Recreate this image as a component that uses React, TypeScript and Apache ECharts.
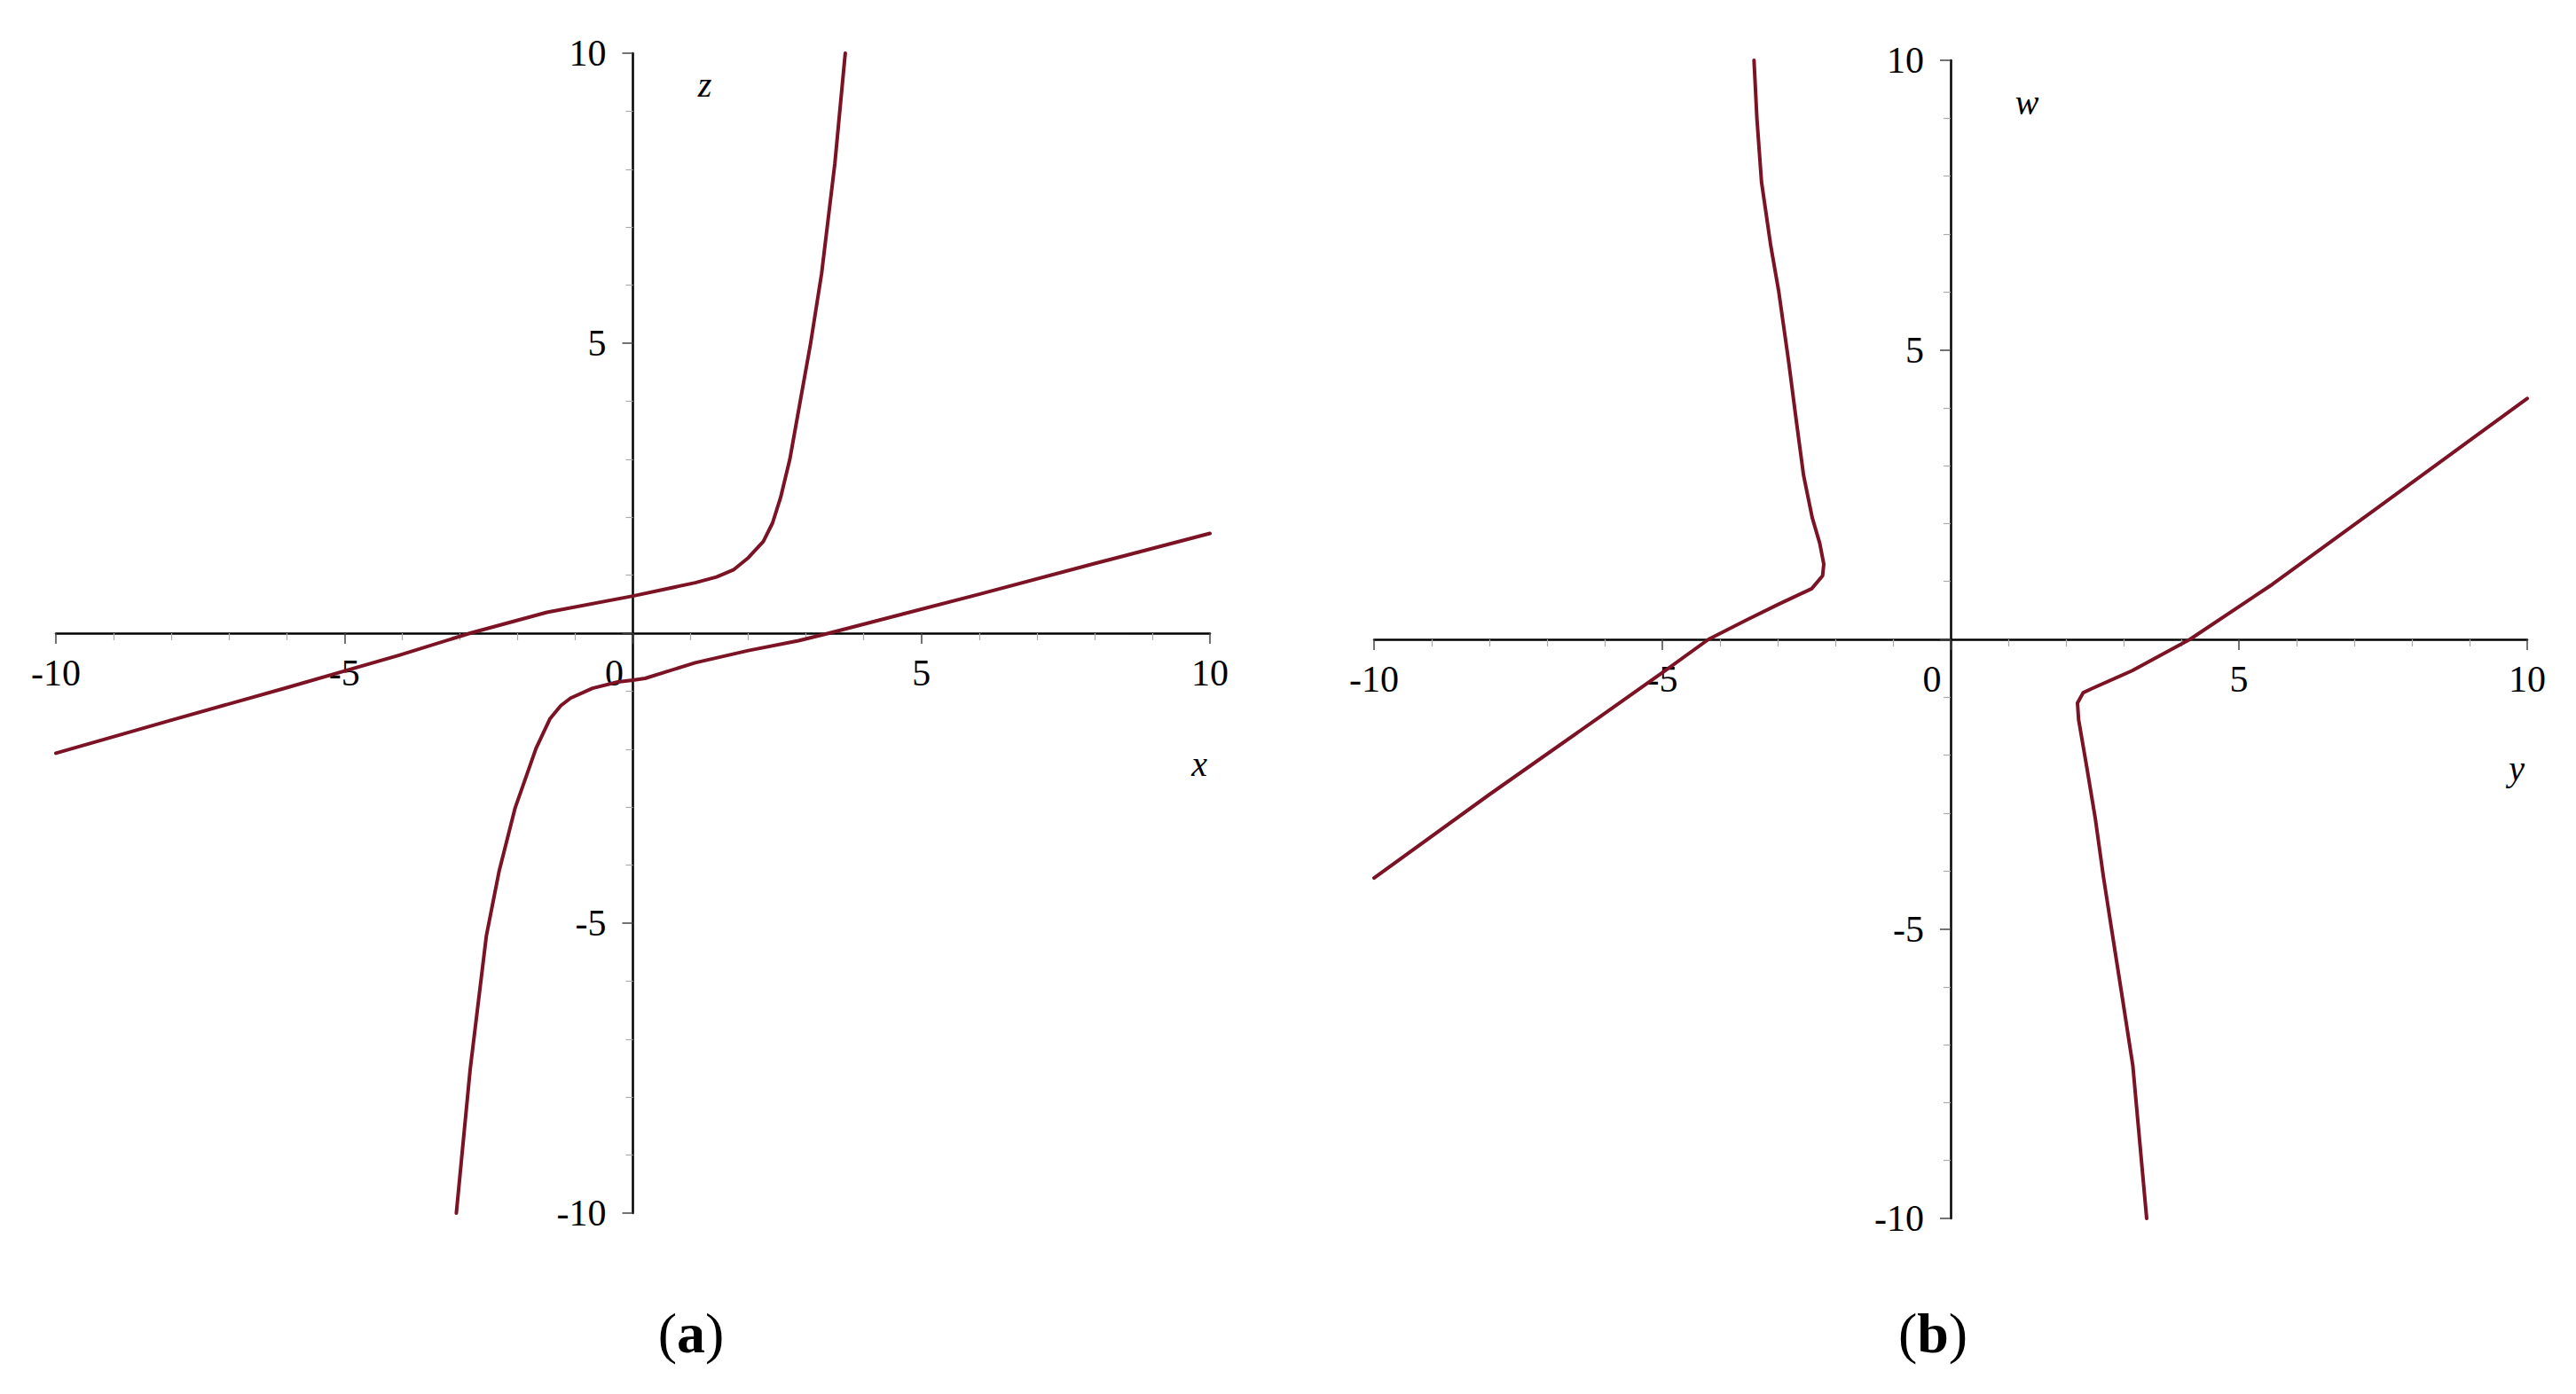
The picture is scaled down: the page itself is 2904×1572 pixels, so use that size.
import React, { useEffect, useRef } from "react";
import * as echarts from "echarts";

// ---- axis ticks ----
const AXIS_MIN = -10;
const AXIS_MAX = 10;
const MAJOR_STEP = 5;
const MINOR_SPLIT = 5;

// ---- panel captions & axis names ----
const panelCaptions = ["a", "b"];
const panelAxisNamesH = ["x", "y"];
const panelAxisNamesV = ["z", "w"];

// ---- panel (a): z versus x ----
const curveAUpper: [number, number][] = [
  [-10, -2.07], [-8, -1.5], [-6, -0.94], [-4.05, -0.38], [-2.82, 0], [-1.49, 0.36],
  [0, 0.64], [1.08, 0.87], [1.45, 0.97], [1.74, 1.09], [2.0, 1.3], [2.26, 1.58],
  [2.42, 1.9], [2.56, 2.34], [2.72, 3.0], [2.9, 4.0], [3.08, 5.0], [3.27, 6.2],
  [3.5, 8.1], [3.68, 10],
];
const curveALower: [number, number][] = [
  [-3.06, -10], [-2.82, -7.52], [-2.54, -5.22], [-2.32, -4.11], [-2.04, -3.01],
  [-1.68, -1.99], [-1.44, -1.48], [-1.25, -1.25], [-1.08, -1.12], [-0.7, -0.95],
  [-0.26, -0.84], [0, -0.81], [0.21, -0.78], [1.08, -0.51], [2.0, -0.3],
  [2.87, -0.13], [3.4, 0], [6, 0.67], [8, 1.2], [10, 1.72],
];

// ---- panel (b): w versus y ----
const curveBLeft: [number, number][] = [
  [-3.41, 10], [-3.36, 9], [-3.28, 7.9], [-3.12, 6.8], [-2.98, 6.0], [-2.81, 4.8],
  [-2.68, 3.8], [-2.55, 2.83], [-2.4, 2.1], [-2.27, 1.66], [-2.2, 1.3], [-2.22, 1.1],
  [-2.41, 0.875], [-3.0, 0.6], [-3.55, 0.33], [-4.2, 0], [-4.98, -0.56],
  [-6.1, -1.35], [-8, -2.68], [-10, -4.12],
];
const curveBRight: [number, number][] = [
  [3.4, -10], [3.16, -7.36], [2.98, -6.2], [2.8, -5.06], [2.65, -4.1], [2.51, -3.1],
  [2.36, -2.2], [2.22, -1.39], [2.2, -1.1], [2.3, -0.92], [2.45, -0.85],
  [3.15, -0.54], [4.15, 0], [5.58, 0.95], [7.44, 2.3], [10, 4.16],
];

const SERIF = '"Liberation Serif", "Times New Roman", serif';
const CURVE_COLOR = "#7b1325";

const GRIDS = [
  { left: 63, top: 60, width: 1301, height: 1308 },
  { left: 1549, top: 68, width: 1300, height: 1306 },
];
// offsets of axis names from the axis ends, in px
const NAME_OFFSETS_H = [[-12, 147], [-12, 145]];
const NAME_OFFSETS_V = [[81, 35], [86, 47]];

const zeroFrac = (0 - AXIS_MIN) / (AXIS_MAX - AXIS_MIN);

function commonAxis(gridIndex: number) {
  return {
    type: "value",
    gridIndex,
    min: AXIS_MIN,
    max: AXIS_MAX,
    interval: MAJOR_STEP,
    axisLine: { onZero: false, lineStyle: { color: "#000", width: 2.5 } },
    axisTick: { show: true, length: 12, lineStyle: { color: "#444", width: 1.5 } },
    minorTick: {
      show: true,
      splitNumber: MINOR_SPLIT,
      length: 8,
      lineStyle: { color: "#aaa", width: 1.2 },
    },
    splitLine: { show: false },
    minorSplitLine: { show: false },
  };
}

function hAxis(gridIndex: number) {
  return {
    ...commonAxis(gridIndex),
    position: "bottom",
    offset: -GRIDS[gridIndex].height * zeroFrac,
    axisLabel: {
      margin: 24,
      fontFamily: SERIF,
      fontSize: 42,
      color: "#000",
      formatter: (v: number) => (v === 0 ? "{z|0}" : String(v)),
      rich: {
        z: { fontFamily: SERIF, fontSize: 42, color: "#000", padding: [0, 42, 0, 0] },
      },
    },
  };
}

function vAxis(gridIndex: number) {
  return {
    ...commonAxis(gridIndex),
    position: "left",
    offset: -GRIDS[gridIndex].width * zeroFrac,
    axisLabel: {
      margin: 30,
      fontFamily: SERIF,
      fontSize: 42,
      color: "#000",
      formatter: (v: number) => (v === 0 ? "" : String(v)),
    },
  };
}

function curveSeries(data: [number, number][], idx: number) {
  return {
    type: "line",
    xAxisIndex: idx,
    yAxisIndex: idx,
    data,
    showSymbol: false,
    symbol: "none",
    smooth: false,
    lineStyle: { color: CURVE_COLOR, width: 4, join: "round", cap: "round" },
    silent: true,
  };
}

function caption(letter: string, x: number, y: number) {
  return {
    type: "text",
    x,
    y,
    style: {
      text: "{p|(}{b|" + letter + "}{p|)}",
      align: "center",
      verticalAlign: "middle",
      rich: {
        p: { fontFamily: SERIF, fontSize: 64, color: "#000", fontWeight: "normal" },
        b: { fontFamily: SERIF, fontSize: 64, color: "#000", fontWeight: "bold" },
      },
    },
  };
}

function axisName(text: string, x: number, y: number) {
  return {
    type: "text",
    x,
    y,
    style: {
      text,
      fontFamily: SERIF,
      fontStyle: "italic",
      fontSize: 40,
      fill: "#000",
      align: "center",
      verticalAlign: "middle",
    },
  };
}

export default function App() {
  const ref = useRef<HTMLDivElement>(null);
  useEffect(() => {
    if (!ref.current) return;
    const chart = echarts.init(ref.current, undefined, { renderer: "svg" });
    chart.setOption({
      animation: false,
      backgroundColor: "#ffffff",
      grid: GRIDS.map((g) => ({ ...g, outerBoundsMode: "none" })),
      xAxis: [hAxis(0), hAxis(1)],
      yAxis: [vAxis(0), vAxis(1)],
      series: [
        curveSeries(curveAUpper, 0),
        curveSeries(curveALower, 0),
        curveSeries(curveBLeft, 1),
        curveSeries(curveBRight, 1),
      ],
    });
    const names: any[] = [];
    [0, 1].forEach((i) => {
      const hEnd = chart.convertToPixel({ gridIndex: i }, [AXIS_MAX, 0]) as number[];
      const vEnd = chart.convertToPixel({ gridIndex: i }, [0, AXIS_MAX]) as number[];
      names.push(
        axisName(panelAxisNamesH[i], hEnd[0] + NAME_OFFSETS_H[i][0], hEnd[1] + NAME_OFFSETS_H[i][1])
      );
      names.push(
        axisName(panelAxisNamesV[i], vEnd[0] + NAME_OFFSETS_V[i][0], vEnd[1] + NAME_OFFSETS_V[i][1])
      );
    });
    chart.setOption({
      graphic: [
        ...names,
        caption(panelCaptions[0], 779, 1503),
        caption(panelCaptions[1], 2179, 1503),
      ],
    });
    return () => chart.dispose();
  }, []);
  return (
    <div
      ref={ref}
      style={{ position: "fixed", left: 0, top: 0, width: 2904, height: 1572, background: "#fff" }}
    />
  );
}
